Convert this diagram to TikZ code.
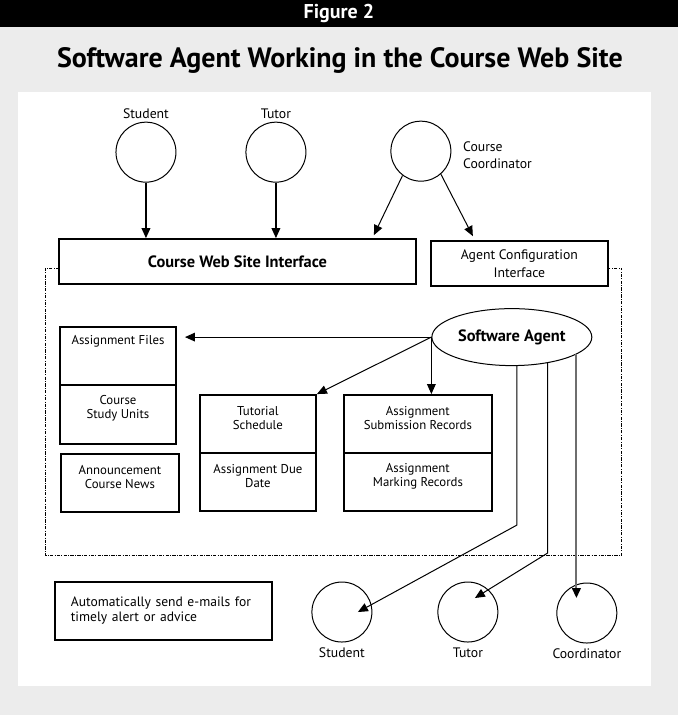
\documentclass[tikz,border=0pt]{standalone}
\usepackage{fontspec}
\setmainfont{PT Sans}
\usetikzlibrary{arrows.meta,shapes.geometric}

\definecolor{bggray}{RGB}{236,236,236}
\definecolor{lineg}{RGB}{110,110,110}

\tikzset{
  actor/.style={draw, circle, line width=0.75pt, minimum size=45pt, inner sep=0pt},
  box/.style={draw, line width=1.5pt, inner sep=0pt, minimum height=43.5pt},
  boxtxt/.style={font=\fontsize{9.6}{10.5}\selectfont, align=center, inner sep=0pt},
  lbl/.style={font=\fontsize{10.3}{12.75}\selectfont, inner sep=0pt},
  arr/.style={-{Triangle[length=7.5pt,width=6.5pt]}, line width=1.1pt},
  thinarr/.style={-{Triangle[length=7.5pt,width=6.5pt]}, line width=0.75pt},
  region/.style={line width=0.6pt, dash pattern=on 2.5pt off 1pt on 0.6pt off 1pt},
}

\begin{document}
\begin{tikzpicture}[x=0.75pt,y=0.75pt,yscale=-1,xscale=1]
% page, header bar and white panel
\fill[bggray] (0,0) rectangle (678,715);
\fill[black] (0,0) rectangle (678,27);
\fill[white] (18,92) rectangle (651,686);
\node[text=white, font=\bfseries\fontsize{15}{16}\selectfont] (fig) at (339,13.5) {Figure 2};
\node[font=\bfseries\fontsize{21}{23}\selectfont] (title) at (340,60) {Software Agent Working in the Course Web Site};

% dash-dot frame of the web site
\draw[region] (59,268) -- (45,268) -- (45,555) -- (622,555) -- (622,268) -- (608,268);

% users at the top
\node[actor, label={[lbl, label distance=2pt]above:Student}] (stu1) at (146,152) {};
\node[actor, label={[lbl, label distance=2pt]above:Tutor}] (tut1) at (276,152) {};
\node[actor] (crd1) at (421,151) {};
\node[lbl, anchor=west, align=left] (crdtxt) at (463,155.5) {Course\\Coordinator};

% interfaces
\node[box, minimum width=267.75pt, minimum height=33.75pt, font=\bfseries\fontsize{12.3}{14}\selectfont] (cwsi) at (237.5,261.5) {Course Web Site Interface};
\node[box, minimum width=132.75pt, minimum height=33.75pt, lbl, align=center] (aci) at (519.5,263.5) {Agent Configuration\\[1pt]Interface};

\coordinate (cwsitip) at (374,235);
\coordinate (acitip) at (473,236);
\draw[arr] (stu1.south) -- (stu1 |- cwsi.north);
\draw[arr] (tut1.south) -- (tut1 |- cwsi.north);
\draw[thinarr] (crd1.233) -- (cwsitip);
\draw[thinarr] (crd1.311) -- (acitip);

% agent
\node[draw, ellipse, line width=0.75pt, minimum width=120pt, minimum height=42.75pt, inner sep=0pt, font=\bfseries\fontsize{12.3}{14}\selectfont] (agent) at (512,337) {Software Agent};

% course materials
\node[box, minimum width=87pt, label={[boxtxt, anchor=north, yshift=-6.5pt]north:Assignment Files}] (af) at (118,356) {};
\node[box, minimum width=87pt, minimum height=44.25pt, label={[boxtxt, yshift=4.5pt]center:{Course\\Study Units}}] (cs) at (118,414.5) {};
\node[box, minimum width=88.5pt, label={[boxtxt, yshift=4.5pt]center:{Announcement\\Course News}}] (an) at (120,483) {};
\node[box, minimum width=87pt, label={[boxtxt, yshift=4.5pt]center:{Tutorial\\Schedule}}] (ts) at (258,424) {};
\node[box, minimum width=87pt, label={[boxtxt, yshift=4.5pt]center:{Assignment Due\\Date}}] (ad) at (258,482) {};
\node[box, minimum width=111pt, label={[boxtxt, yshift=4.5pt]center:{Assignment\\Submission Records}}] (sr) at (418,424) {};
\node[box, minimum width=111pt, label={[boxtxt, yshift=4.5pt]center:{Assignment\\Marking Records}}] (mr) at (418,482) {};

\draw[thinarr, shorten >=6pt] (agent.west) -- (agent.west -| af.east);
\draw[thinarr] (agent.west) -- (ts.north east);
\draw[thinarr] (agent.west) -- (agent.west |- sr.north);

% e-mail alerts
\node[box, minimum width=162.75pt, text width=139pt, inner xsep=12pt, align=left, font=\fontsize{10.2}{11.25}\selectfont] (mail) at (163.5,611) {Automatically send e-mails for\\timely alert or advice};

\node[actor, label={[lbl, label distance=4pt]below:Student}] (stu2) at (342,612) {};
\node[actor, label={[lbl, label distance=4pt]below:Tutor}] (tut2) at (468,612) {};
\node[actor, label={[lbl, label distance=4pt]below:Coordinator}] (crd2) at (587,613) {};

\draw[thinarr] (agent.280) -- (agent.280 |- 0,525) -- ([shift={(16,0)}]stu2.center);
\draw[thinarr] (agent.324.7) -- (agent.324.7 |- 0,553) -- ([shift={(7,-14)}]tut2.center);
\draw[thinarr, lineg, line width=1.5pt, -{Triangle[length=7.5pt,width=6.5pt,black]}] (agent.345) -- (agent.345 |- 0,598);

\end{tikzpicture}
\end{document}
